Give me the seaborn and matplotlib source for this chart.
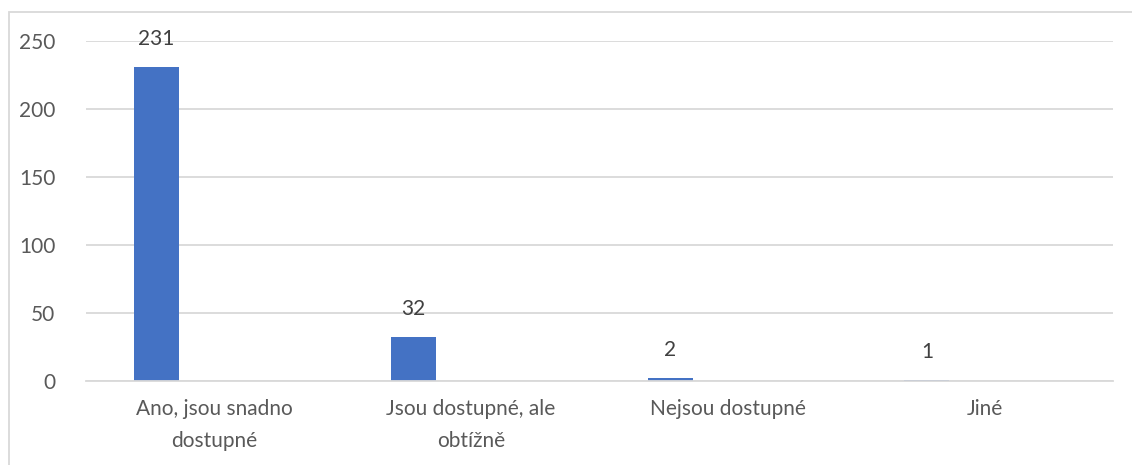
import pandas as pd
import matplotlib.pyplot as plt
import seaborn as sns
from matplotlib.patches import Rectangle

# Data
categories = ["Ano, jsou snadno\ndostupné", "Jsou dostupné, ale\nobtížně", "Nejsou dostupné", "Jiné"]
values = [231, 32, 2, 1]
series_names = ["Počet", "Prázdná"]

df = pd.DataFrame({
    "kategorie": categories * 2,
    "hodnota": values + [float("nan")] * len(values),
    "serie": [series_names[0]] * len(values) + [series_names[1]] * len(values),
})

sns.set_theme(style="white")
plt.rcParams['font.family'] = ['Lato', 'DejaVu Sans']

fig = plt.figure(figsize=(11.32, 4.65), dpi=100)
ax = fig.add_axes([86 / 1132, 84 / 465, (1113 - 86) / 1132, 340 / 465])

sns.barplot(data=df, x="kategorie", y="hodnota", hue="serie", hue_order=series_names,
            order=categories, palette=["#4472C4", "#ED7D31"], saturation=1,
            width=0.9, gap=0.61, linewidth=0, legend=False, ax=ax)

ax.bar_label(ax.containers[0], labels=[str(v) for v in values], padding=13,
             fontsize=15, color="#404040")

ax.set_ylim(0, 250)
ax.set_yticks(range(0, 251, 50))
ax.set_xlim(-0.5, len(categories) - 0.5)
ax.set_xticks(range(len(categories)), labels=categories, linespacing=1.75)
ax.yaxis.grid(True, color="#D9D9D9", linewidth=1.3)
ax.set_axisbelow(True)
for side in ["top", "right", "left"]:
    ax.spines[side].set_visible(False)
ax.spines["bottom"].set_color("#D9D9D9")
ax.spines["bottom"].set_linewidth(1.3)
ax.tick_params(axis="both", length=0, labelsize=15, colors="#595959")
ax.tick_params(axis="x", pad=13)
ax.tick_params(axis="y", pad=22)
ax.set_xlabel("")
ax.set_ylabel("")

# chart border
fig.patches.append(Rectangle((8.5 / 1132, -0.1), 1.2, (465 - 12.5) / 465 + 0.1,
                             transform=fig.transFigure, fill=False,
                             edgecolor="#D9D9D9", linewidth=1.3))

fig.savefig("out.png", dpi=100)
